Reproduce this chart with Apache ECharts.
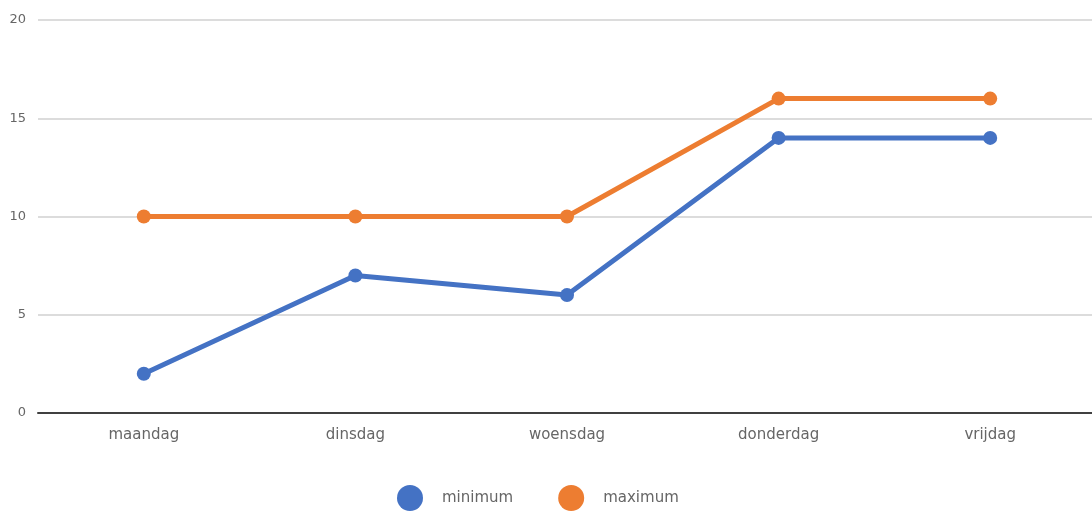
<!DOCTYPE html>
<html>
<head>
<meta charset="utf-8">
<script src="https://cdn.jsdelivr.net/npm/echarts@6/dist/echarts.min.js"></script>
<style>
  html, body { margin: 0; padding: 0; background: #fff; }
  #chart { width: 1092px; height: 517px; }
</style>
</head>
<body>
<div id="chart"></div>
<script>
const days = ['maandag', 'dinsdag', 'woensdag', 'donderdag', 'vrijdag']
const minimum = [2, 7, 6, 14, 14]
const maximum = [10, 10, 10, 16, 16]

const chart = echarts.init(document.getElementById('chart'))

const lineSeries = (name, data, color) => ({
  name,
  type: 'line',
  data,
  symbol: 'circle',
  symbolSize: 14,
  itemStyle: { color },
  lineStyle: { color, width: 5 },
  animation: false
})

chart.setOption({
  textStyle: { fontFamily: 'DejaVu Sans, sans-serif' },
  grid: { left: 38, right: -4, top: 20, bottom: 104, outerBoundsMode: 'none' },
  legend: {
    top: 480,
    left: 392,
    icon: 'circle',
    itemWidth: 26,
    itemHeight: 26,
    itemGap: 45,
    textStyle: { color: '#666666', fontSize: 15, padding: [0, 0, 0, 14] },
    data: ['minimum', 'maximum']
  },
  xAxis: {
    type: 'category',
    data: days,
    axisLine: { lineStyle: { color: '#404040', width: 2 } },
    axisTick: { show: false },
    axisLabel: { color: '#666666', fontSize: 15, margin: 15 }
  },
  yAxis: {
    type: 'value',
    min: 0,
    max: 20,
    interval: 5,
    axisLine: { show: false },
    axisTick: { show: false },
    axisLabel: { color: '#666666', fontSize: 13, margin: 12 },
    splitLine: { lineStyle: { color: '#d0d0d0', width: 1.5 } }
  },
  series: [
    lineSeries('minimum', minimum, '#4472C4'),
    lineSeries('maximum', maximum, '#ED7D31')
  ]
})

window.addEventListener('resize', () => chart.resize())
</script>
</body>
</html>
